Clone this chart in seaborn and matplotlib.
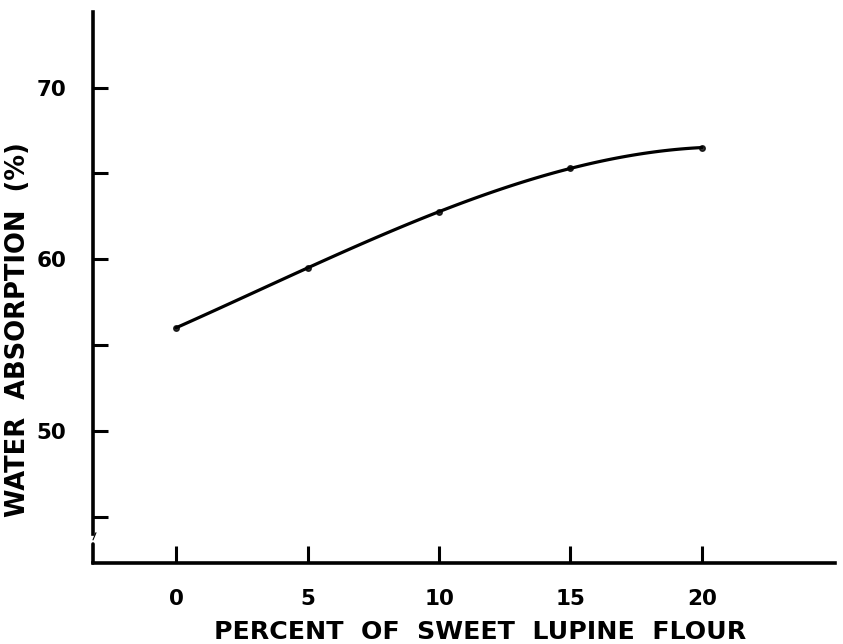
import matplotlib
matplotlib.use("Agg")
import matplotlib.pyplot as plt
import seaborn as sns
import pandas as pd

# data
lupine_pct = [0, 5, 10, 15, 20]
water_abs = [56.0, 59.5, 62.75, 65.3, 66.5]
x_ticks = [0, 5, 10, 15, 20]
y_ticks = [45, 50, 55, 60, 65, 70]
y_ticklabels = ["", "50", "", "60", "", "70"]

df = pd.DataFrame({"pct": lupine_pct, "wa": water_abs})

sns.set_theme(style="white")
plt.rcParams["font.family"] = ["DejaVu Sans"]
plt.rcParams["text.color"] = "black"
plt.rcParams["xtick.color"] = "black"
plt.rcParams["ytick.color"] = "black"

fig = plt.figure(figsize=(8.43, 6.44), dpi=100)
ax = fig.add_axes([93 / 843, 1 - 563 / 644, (835 - 93) / 843, (563 - 12) / 644])

sns.regplot(data=df, x="pct", y="wa", order=3, ci=None, ax=ax,
            scatter_kws=dict(s=16, color="black", zorder=3),
            line_kws=dict(color="black", lw=2.3))

tick_font = dict(family=["DejaVu Sans"], size=15.5, weight="bold")

ax.set_xlim(-3.16, 25.06)
ax.set_ylim(42.3, 74.4)
ax.set_xticks(x_ticks)
ax.set_xticklabels([str(v) for v in x_ticks], fontdict=tick_font)
ax.set_yticks(y_ticks)
ax.set_yticklabels(y_ticklabels, fontdict=tick_font)
ax.tick_params(axis="x", bottom=True, direction="in", length=12, width=2.2, pad=19,
               color="black", labelcolor="black")
ax.tick_params(axis="y", left=True, direction="in", length=11, width=2.2, pad=19,
               color="black", labelcolor="black")
ax.set_xlabel("")
ax.set_ylabel("")

for s in ["top", "right"]:
    ax.spines[s].set_visible(False)
for s in ["left", "bottom"]:
    ax.spines[s].set_color("black")
    ax.spines[s].set_linewidth(2.6)
ax.spines["left"].set_bounds(44.0, 74.4)
# axis break stub near the origin
ax.plot([0, 0], [0, 0.035], color="black", lw=2.6, transform=ax.transAxes, clip_on=False)
ax.plot([0.0, 0.004], [0.042, 0.055], color="black", lw=0.8, transform=ax.transAxes, clip_on=False)

fig.text(18 / 843, 1 - 330 / 644, "WATER  ABSORPTION  (%)", rotation=90,
         ha="center", va="center", fontsize=18.5, fontweight="bold", color="black")
fig.text(480 / 843, 1 - 632 / 644, "PERCENT  OF  SWEET  LUPINE  FLOUR",
         ha="center", va="center", fontsize=18.2, fontweight="bold", color="black")

fig.savefig("out.png", dpi=100)
